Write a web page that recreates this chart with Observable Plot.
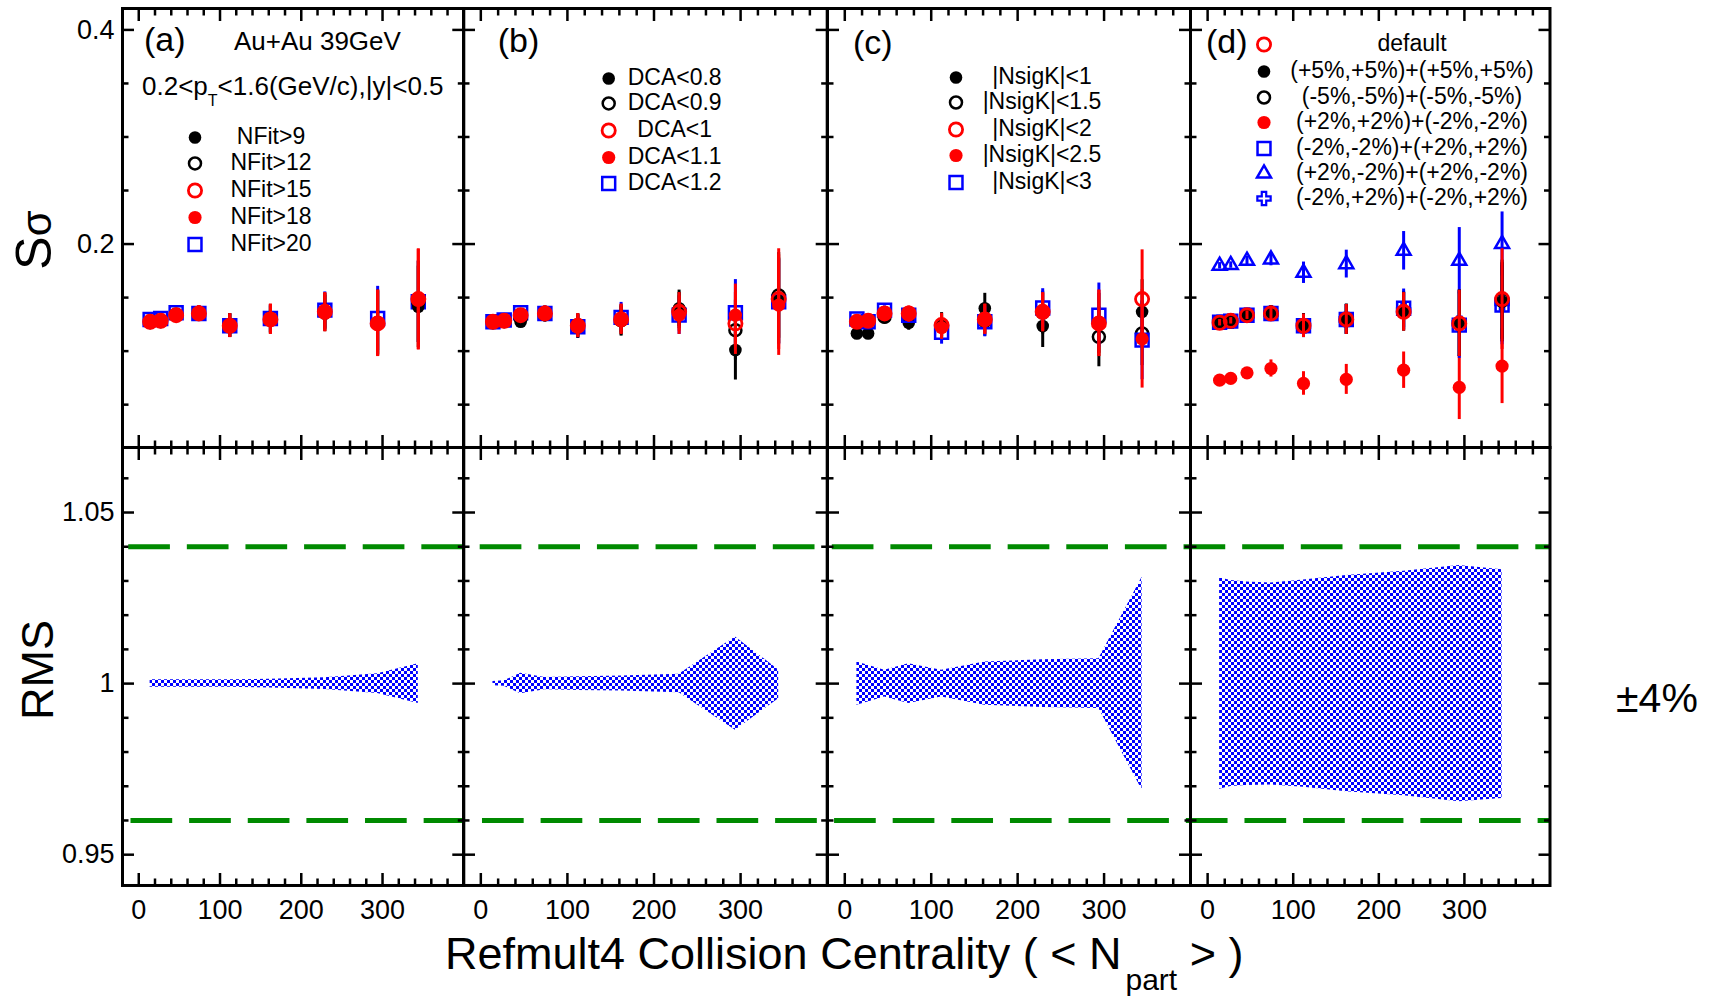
<!DOCTYPE html>
<html><head><meta charset="utf-8">
<script src="https://cdn.jsdelivr.net/npm/d3@7"></script>
<script src="https://cdn.jsdelivr.net/npm/@observablehq/plot@0.6"></script>
<style>
body{margin:0;background:#fff;}
#fig{position:relative;width:1709px;height:997px;overflow:hidden;background:#fff;}
g[aria-label="limit"]{filter:drop-shadow(0px 4px 2.5px rgba(0,0,0,0.35));}
</style></head>
<body>
<svg width="0" height="0" style="position:absolute"><defs>
<pattern id="checker" width="6" height="6" patternUnits="userSpaceOnUse">
<rect x="0" y="0" width="3" height="3" fill="#0000ff"/><rect x="3" y="3" width="3" height="3" fill="#0000ff"/>
</pattern></defs></svg>
<div id="fig"></div>
<script>
// ---------------- DATA ----------------
const npart = [14, 27, 46, 74, 112, 162, 229, 294, 344];

// (a) NFit
const nfit9  = [0.1270, 0.1280, 0.1330, 0.1350, 0.1240, 0.1290, 0.1352, 0.1270, 0.1414];
const nfit12 = [0.1270, 0.1280, 0.1340, 0.1350, 0.1240, 0.1300, 0.1370, 0.1260, 0.1460];
const nfit15 = [0.1274, 0.1283, 0.1336, 0.1352, 0.1236, 0.1296, 0.1367, 0.1259, 0.1486];
const nfit18 = [0.1270, 0.1280, 0.1336, 0.1355, 0.1240, 0.1300, 0.1360, 0.1260, 0.1480];
const nfit20 = [0.1296, 0.1305, 0.1358, 0.1352, 0.1237, 0.1305, 0.1383, 0.1305, 0.1461];
const errA_red   = [0.003, 0.003, 0.004, 0.007, 0.011, 0.014, 0.018, 0.031, 0.047];
const errA_other = [0.003, 0.003, 0.004, 0.007, 0.011, 0.013, 0.017, 0.030, 0.038];

// (b) DCA
const dca08 = [0.1270, 0.1280, 0.1275, 0.1340, 0.1230, 0.1280, 0.1400, 0.1010, 0.1470];
const dca09 = [0.1270, 0.1280, 0.1310, 0.1350, 0.1240, 0.1290, 0.1380, 0.1196, 0.1520];
const dca1  = [0.1274, 0.1283, 0.1336, 0.1352, 0.1236, 0.1296, 0.1367, 0.1259, 0.1486];
const dca11 = [0.1270, 0.1280, 0.1336, 0.1350, 0.1240, 0.1300, 0.1336, 0.1336, 0.1430];
const dca12 = [0.1274, 0.1290, 0.1358, 0.1352, 0.1228, 0.1315, 0.1336, 0.1358, 0.1460];
const errB_red   = [0.003, 0.003, 0.004, 0.007, 0.011, 0.014, 0.018, 0.029, 0.047];
const errB_black = [0.003, 0.003, 0.004, 0.007, 0.011, 0.014, 0.017, 0.028, 0.040];
const errB_blue  = [0.003, 0.003, 0.004, 0.007, 0.011, 0.014, 0.018, 0.031, 0.040];

// (c) |NsigK|
const k1  = [0.1165, 0.1165, 0.1315, 0.1265, 0.1250, 0.1400, 0.1234, 0.1260, 0.1367];
const k15 = [0.1270, 0.1280, 0.1320, 0.1340, 0.1240, 0.1280, 0.1360, 0.1134, 0.1165];
const k2  = [0.1274, 0.1283, 0.1352, 0.1352, 0.1243, 0.1296, 0.1367, 0.1259, 0.1486];
const k25 = [0.1270, 0.1280, 0.1345, 0.1340, 0.1220, 0.1300, 0.1360, 0.1260, 0.1115];
const k3  = [0.1300, 0.1274, 0.1383, 0.1336, 0.1175, 0.1274, 0.1403, 0.1336, 0.1103];
const errC_red   = [0.003, 0.003, 0.004, 0.007, 0.011, 0.014, 0.018, 0.031, 0.046];
const errC_black = [0.003, 0.003, 0.004, 0.007, 0.011, 0.014, 0.020, 0.028, 0.030];
const errC_blue  = [0.003, 0.003, 0.004, 0.007, 0.011, 0.014, 0.018, 0.030, 0.037];

// (d) efficiency variations
const dDefault = [0.1265, 0.1283, 0.1336, 0.1352, 0.1237, 0.1296, 0.1367, 0.1259, 0.1486];
const dP5   = [0.1270, 0.1280, 0.1340, 0.1355, 0.1240, 0.1300, 0.1370, 0.1260, 0.1460];
const dM5   = [0.1270, 0.1280, 0.1336, 0.1350, 0.1237, 0.1296, 0.1367, 0.1260, 0.1480];
const dPPMM = [0.0729, 0.0745, 0.0797, 0.0838, 0.0698, 0.0736, 0.0822, 0.0661, 0.0860];
const dMMPP = [0.1270, 0.1280, 0.1336, 0.1352, 0.1237, 0.1296, 0.1400, 0.1243, 0.1430];
const dPMPM = [0.1797, 0.1804, 0.1844, 0.1857, 0.1732, 0.1813, 0.1937, 0.1844, 0.2000];
const dMPMP = [0.1270, 0.1280, 0.1336, 0.1352, 0.1237, 0.1296, 0.1380, 0.1260, 0.1450];
const errD_def  = [0.003, 0.003, 0.004, 0.007, 0.011, 0.014, 0.018, 0.031, 0.047];
const errD_tri  = [0.003, 0.003, 0.004, 0.006, 0.010, 0.013, 0.018, 0.031, 0.030];
const errD_redF = [0.002, 0.002, 0.004, 0.008, 0.011, 0.014, 0.017, 0.030, 0.035];
const errD_blue = [0.003, 0.003, 0.004, 0.007, 0.011, 0.014, 0.018, 0.031, 0.037];

// RMS bands (upper / lower)
const rmsA_hi = [1.0011, 1.0011, 1.0011, 1.0011, 1.0011, 1.0013, 1.0017, 1.0029, 1.0058];
const rmsA_lo = [0.9989, 0.9989, 0.9989, 0.9989, 0.9989, 0.9987, 0.9983, 0.9971, 0.9942];
const rmsB_hi = [1.0006, 1.0008, 1.0030, 1.0018, 1.0020, 1.0022, 1.0027, 1.0136, 1.0040];
const rmsB_lo = [0.9994, 0.9992, 0.9970, 0.9982, 0.9980, 0.9978, 0.9973, 0.9864, 0.9956];
const rmsC_hi = [1.0063, 1.0054, 1.0039, 1.0058, 1.0039, 1.0063, 1.0070, 1.0073, 1.0311];
const rmsC_lo = [0.9937, 0.9946, 0.9961, 0.9942, 0.9961, 0.9937, 0.9930, 0.9927, 0.9689];
const rmsD_hi = [1.0309, 1.0301, 1.0297, 1.0294, 1.0303, 1.0316, 1.0328, 1.0345, 1.0333];
const rmsD_lo = [0.9691, 0.9699, 0.9702, 0.9704, 0.9697, 0.9684, 0.9672, 0.9655, 0.9664];
const limits = [1.04, 0.96];

// Ticks
const xMajor = [0, 100, 200, 300];
const xMinor = [20, 40, 60, 80, 120, 140, 160, 180, 220, 240, 260, 280, 320, 340, 360, 380];
const yTopMajor = [0.2, 0.4];
const yTopMinor = [0.05, 0.1, 0.15, 0.25, 0.3, 0.35];
const yBotMajor = [0.95, 1, 1.05];
const yBotMinor = [0.96, 0.97, 0.98, 0.99, 1.01, 1.02, 1.03, 1.04, 1.06];

// Legend labels
const legendA = ["NFit>9", "NFit>12", "NFit>15", "NFit>18", "NFit>20"];
const legendB = ["DCA<0.8", "DCA<0.9", "DCA<1", "DCA<1.1", "DCA<1.2"];
const legendC = ["|NsigK|<1", "|NsigK|<1.5", "|NsigK|<2", "|NsigK|<2.5", "|NsigK|<3"];
const legendD = ["default", "(+5%,+5%)+(+5%,+5%)", "(-5%,-5%)+(-5%,-5%)", "(+2%,+2%)+(-2%,-2%)",
                 "(-2%,-2%)+(+2%,+2%)", "(+2%,-2%)+(+2%,-2%)", "(-2%,+2%)+(-2%,+2%)"];

// ---------------- STYLES / LAYOUT ----------------
const FONT = '"Liberation Sans", Arial, Helvetica, sans-serif';
const ST = {
  bF: {symbol: "circle", fill: "black", stroke: "none", r: 6.3, c: "black"},
  bO: {symbol: "circle", fill: "none", stroke: "black", strokeWidth: 2.5, r: 6, c: "black"},
  rO: {symbol: "circle", fill: "none", stroke: "#ff0000", strokeWidth: 2.8, r: 6.6, c: "#ff0000"},
  rF: {symbol: "circle", fill: "#ff0000", stroke: "none", r: 6.6, c: "#ff0000"},
  sq: {symbol: "square", fill: "none", stroke: "#0000ff", strokeWidth: 2.5, r: 7.3, c: "#0000ff"},
  tr: {symbol: "triangle", fill: "none", stroke: "#0000ff", strokeWidth: 2.5, r: 5.2, c: "#0000ff"},
  cr: {symbol: "cross", fill: "none", stroke: "#0000ff", strokeWidth: 2.2, r: 5.6, c: "#0000ff"}
};
const colX = [121.5, 462.8, 826.5, 1189.5, 1549];
const rowY = [8, 447, 885];
const fig = document.getElementById("fig");

function table(vals, err) {
  return npart.map((x, i) => ({x, y: vals[i], lo: vals[i] - err[i], hi: vals[i] + err[i]}));
}
function seriesMarks(vals, err, st) {
  const d = table(vals, err);
  const {c, ...dotStyle} = st;
  return [
    Plot.ruleX(d, {x: "x", y1: "lo", y2: "hi", stroke: c, strokeWidth: 3}),
    Plot.dot(d, {x: "x", y: "y", ...dotStyle})
  ];
}
function tickMarks(yMaj, yMin) {
  const common = {stroke: "black", strokeWidth: 2.5, fill: "none", label: null};
  const m = [];
  for (const a of ["top", "bottom"]) {
    m.push(Plot.axisX(xMajor, {...common, anchor: a, tickSize: -12}));
    m.push(Plot.axisX(xMinor, {...common, anchor: a, tickSize: -6.5}));
  }
  for (const a of ["left", "right"]) {
    m.push(Plot.axisY(yMaj, {...common, anchor: a, tickSize: -12}));
    m.push(Plot.axisY(yMin, {...common, anchor: a, tickSize: -6.5}));
  }
  return m;
}
function legendMarks(ci, ri, labels, styles, mx, rows, tx) {
  const x0 = colX[ci], y0 = rowY[ri];
  return labels.flatMap((lab, i) => {
    const {c, ...s} = styles[i];
    return [
      Plot.dot([lab], {frameAnchor: "top-left", dx: mx - x0, dy: rows[i] - y0, ...s}),
      Plot.text([lab], {frameAnchor: "top-left", dx: tx - x0, dy: rows[i] - y0 - 1, text: d => d,
        textAnchor: "middle", lineAnchor: "middle", fontSize: 23, fill: "black"})
    ];
  });
}
function label(ci, ri, txt, ax, ay, fs) {
  return Plot.text([txt], {frameAnchor: "top-left", dx: ax - colX[ci], dy: ay - rowY[ri], text: d => d,
    textAnchor: "start", lineAnchor: "bottom", fontSize: fs, fill: "black"});
}
function makePanel(ci, ri, marks) {
  const x0 = colX[ci], x1 = colX[ci + 1], y0 = rowY[ri], y1 = rowY[ri + 1];
  const mL = ci === 0 ? 90 : 4, mR = 4, mT = ri === 0 ? 8 : 4, mB = ri === 1 ? 60 : 4;
  const top = ri === 0;
  const yMaj = top ? yTopMajor : yBotMajor, yMin = top ? yTopMinor : yBotMinor;
  const extra = [];
  if (ci === 0) extra.push(Plot.axisY(yMaj, {anchor: "left", tickSize: 0, tickPadding: 8, fontSize: 27,
    tickFormat: d => String(d), label: null}));
  if (ri === 1) extra.push(Plot.axisX(xMajor, {anchor: "bottom", tickSize: 0, tickPadding: 14, fontSize: 27,
    tickFormat: d => String(d), label: null}));
  const svg = Plot.plot({
    width: x1 - x0 + mL + mR, height: y1 - y0 + mT + mB,
    marginLeft: mL, marginRight: mR, marginTop: mT, marginBottom: mB,
    x: {domain: [-20, 400]},
    y: {domain: top ? [0.01, 0.42] : [0.941, 1.069]},
    style: {background: "transparent", overflow: "visible", fontFamily: FONT, color: "black"},
    marks: [...marks, ...tickMarks(yMaj, yMin), ...extra, Plot.frame({stroke: "black", strokeWidth: 3})]
  });
  svg.style.position = "absolute";
  svg.style.left = (x0 - mL) + "px";
  svg.style.top = (y0 - mT) + "px";
  fig.appendChild(svg);
}
function bandPanel(ci, hi, lo) {
  const d = npart.map((x, i) => ({x, hi: hi[i], lo: lo[i]}));
  const P = 58.63;
  const starts = [127.7, 130];
  const marks = [Plot.areaY(d, {x: "x", y1: "lo", y2: "hi", fill: "url(#checker)"})];
  limits.forEach((v, k) => {
    const off = (((colX[ci] - starts[k]) % P) + P) % P;
    marks.push(Plot.ruleY([v], {stroke: "#008a00", strokeWidth: 5, strokeDasharray: "41.7,16.93",
      strokeDashoffset: off, ariaLabel: "limit"}));
  });
  makePanel(ci, 1, marks);
}

// ---------------- TOP PANELS ----------------
makePanel(0, 0, [
  ...seriesMarks(nfit20, errA_other, ST.sq),
  ...seriesMarks(nfit9, errA_other, ST.bF),
  ...seriesMarks(nfit12, errA_other, ST.bO),
  ...seriesMarks(nfit18, errA_red, ST.rF),
  ...seriesMarks(nfit15, errA_red, ST.rO),
  label(0, 0, "(a)", 143, 51, 34),
  label(0, 0, "Au+Au 39GeV", 233, 50, 26),
  ...legendMarks(0, 0, legendA, [ST.bF, ST.bO, ST.rO, ST.rF, ST.sq], 194, [137, 163, 190, 217, 244], 270)
]);
makePanel(1, 0, [
  ...seriesMarks(dca12, errB_blue, ST.sq),
  ...seriesMarks(dca08, errB_black, ST.bF),
  ...seriesMarks(dca09, errB_black, ST.bO),
  ...seriesMarks(dca11, errB_red, ST.rF),
  ...seriesMarks(dca1, errB_red, ST.rO),
  label(1, 0, "(b)", 497, 52, 34),
  ...legendMarks(1, 0, legendB, [ST.bF, ST.bO, ST.rO, ST.rF, ST.sq], 608, [78, 103, 130, 157, 183], 674)
]);
makePanel(2, 0, [
  ...seriesMarks(k1, errC_black, ST.bF),
  ...seriesMarks(k15, errC_black, ST.bO),
  ...seriesMarks(k3, errC_blue, ST.sq),
  ...seriesMarks(k25, errC_red, ST.rF),
  ...seriesMarks(k2, errC_red, ST.rO),
  label(2, 0, "(c)", 852, 53, 34),
  ...legendMarks(2, 0, legendC, [ST.bF, ST.bO, ST.rO, ST.rF, ST.sq], 955, [77, 102, 129, 155, 182], 1041)
]);
makePanel(3, 0, [
  ...seriesMarks(dPPMM, errD_redF, ST.rF),
  ...seriesMarks(dPMPM, errD_tri, ST.tr),
  ...seriesMarks(dMMPP, errD_blue, ST.sq),
  ...seriesMarks(dMPMP, errD_blue, ST.cr),
  ...seriesMarks(dP5, errD_blue, ST.bF),
  ...seriesMarks(dM5, errD_blue, ST.bO),
  ...seriesMarks(dDefault, errD_def, ST.rO),
  label(3, 0, "(d)", 1205, 52, 34),
  ...legendMarks(3, 0, legendD, [ST.rO, ST.bF, ST.bO, ST.rF, ST.sq, ST.tr, ST.cr], 1263,
    [44, 71, 97, 122, 148, 173, 198], 1411)
]);

// ---------------- BOTTOM PANELS ----------------
bandPanel(0, rmsA_hi, rmsA_lo);
bandPanel(1, rmsB_hi, rmsB_lo);
bandPanel(2, rmsC_hi, rmsC_lo);
bandPanel(3, rmsD_hi, rmsD_lo);

// ---------------- TEXT OVERLAY ----------------
const ov = d3.select(fig).append("svg").attr("width", 1709).attr("height", 997)
  .style("position", "absolute").style("left", "0px").style("top", "0px")
  .style("pointer-events", "none").attr("font-family", FONT).attr("fill", "black");

const pt = ov.append("text").attr("x", 142).attr("y", 95).attr("font-size", 26);
pt.append("tspan").text("0.2<p");
pt.append("tspan").attr("font-size", 16).attr("dy", 11).text("T");
pt.append("tspan").attr("dy", -11).text("<1.6(GeV/c),|y|<0.5");

const xt = ov.append("text").attr("x", 445).attr("y", 969).attr("font-size", 45);
xt.append("tspan").text("Refmult4 Collision Centrality ( < N");
xt.append("tspan").attr("font-size", 30).attr("dy", 21).attr("dx", 4).text("part");
xt.append("tspan").attr("dy", -21).text(" > )");

const sy = ov.append("text").attr("transform", "translate(51,240) rotate(-90)")
  .attr("text-anchor", "middle").attr("font-size", 50);
sy.append("tspan").text("S");
sy.append("tspan").attr("font-size", 42).text("σ");

ov.append("text").attr("transform", "translate(53,670) rotate(-90)")
  .attr("text-anchor", "middle").attr("font-size", 45).text("RMS");

ov.append("text").attr("x", 1657).attr("y", 712).attr("text-anchor", "middle")
  .attr("font-size", 41).text("±4%");
</script>
</body></html>
